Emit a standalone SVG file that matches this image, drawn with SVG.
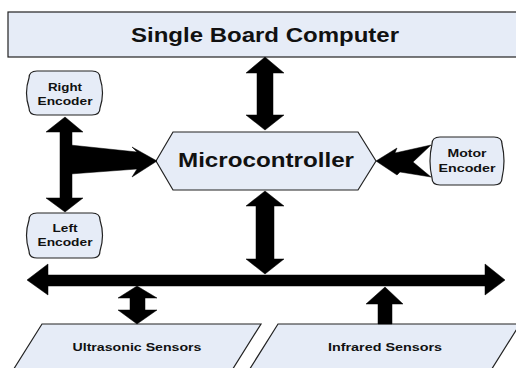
<svg xmlns="http://www.w3.org/2000/svg" width="516" height="368" viewBox="0 0 516 368">
<style>
.box{fill:#E6ECF7;stroke:#222;stroke-width:1.2}
.t{font-family:"Liberation Sans",Arial,sans-serif;font-weight:bold;fill:#111;text-anchor:middle}
.big{font-size:20px}
.sm{font-size:11px}
.arr{fill:#000;stroke:#000;stroke-width:0.5;stroke-linejoin:miter}
</style>
<rect width="516" height="368" fill="#fff"/>
<g id="sbc">
<rect class="box" x="8" y="12" width="512" height="45"/>
<text class="t big" x="265" y="42" textLength="268" lengthAdjust="spacingAndGlyphs">Single Board Computer</text>
</g>
<g id="micro">
<polygon class="box" points="156,161 173,132 358,132 376,161 358,190 173,190"/>
<text class="t big" x="266" y="167" textLength="176" lengthAdjust="spacingAndGlyphs">Microcontroller</text>
</g>
<g id="right-encoder">
<path class="box" d="M37,71 H92 Q100,71 100,78 Q105,93 100,108 Q100,115 92,115 H37 Q29,115 29,108 Q24,93 29,78 Q29,71 37,71 Z"/>
<text class="t sm" x="65" y="91" textLength="34" lengthAdjust="spacingAndGlyphs">Right</text>
<text class="t sm" x="65" y="105" textLength="55" lengthAdjust="spacingAndGlyphs">Encoder</text>
</g>
<g id="left-encoder">
<path class="box" d="M37,213 H92 Q100,213 100,220 Q105,235.5 100,251 Q100,258 92,258 H37 Q29,258 29,251 Q24,235.5 29,220 Q29,213 37,213 Z"/>
<text class="t sm" x="65" y="232" textLength="25" lengthAdjust="spacingAndGlyphs">Left</text>
<text class="t sm" x="65" y="246" textLength="55" lengthAdjust="spacingAndGlyphs">Encoder</text>
</g>
<g id="motor-encoder">
<path class="box" d="M440,137 H494 Q502,137 502,144 Q506,161 502,178 Q502,185 494,185 H440 Q432,185 432,178 Q428,161 432,144 Q432,137 440,137 Z"/>
<text class="t sm" x="467" y="157" textLength="39" lengthAdjust="spacingAndGlyphs">Motor</text>
<text class="t sm" x="467" y="172" textLength="57" lengthAdjust="spacingAndGlyphs">Encoder</text>
</g>
<g id="ultrasonic">
<polygon class="box" points="42,324 261,324 229,375 10,375"/>
<text class="t sm" x="137" y="351" textLength="129" lengthAdjust="spacingAndGlyphs">Ultrasonic Sensors</text>
</g>
<g id="infrared">
<polygon class="box" points="278,324 520,324 488,375 246,375"/>
<text class="t sm" x="385" y="351" textLength="114" lengthAdjust="spacingAndGlyphs">Infrared Sensors</text>
</g>
<g id="connectors">
<polygon class="arr" points="265,57 284,73 273,73 273,115 284,115 265,130 246,115 257,115 257,73 246,73"/>
<polygon class="arr" points="265,191 284,206 274,206 274,259 284,259 265,274 246,259 256,259 256,206 246,206"/>
<polygon class="arr" points="27,280 48,264 48,275 485,275 485,264 505,280 485,295 485,286 48,286 48,295"/>
<polygon class="arr" points="137,286 157,298 145,298 145,310 157,310 137,324 118,310 130,310 130,298 118,298"/>
<polygon class="arr" points="385,287 403,304 392,304 392,324 378,324 378,304 366,304"/>
<polygon class="arr" points="65,117 83,132 72,132 72,198 83,198 65,212 46,198 60,198 60,132 46,132"/>
<polygon class="arr" points="70,145 137,152 132,147 157,161 132,177 137,169 70,174"/>
<polygon class="arr" points="376,161 397,148 395,153 431,145 413,162 431,177 400,172 397,175"/>
</g>
</svg>
